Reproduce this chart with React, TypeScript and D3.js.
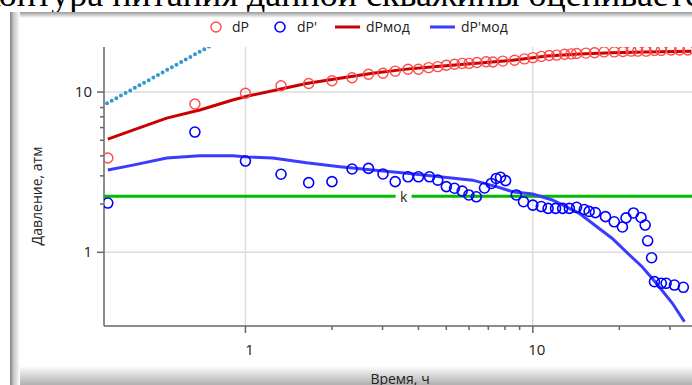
import React from "react";
import * as d3 from "d3";

// measured pressure change, dP
const dpTime = [0.332, 0.667, 1.0, 1.33, 1.66, 2.0, 2.35, 2.68, 3.01, 3.32, 3.68, 4.0, 4.34, 4.67, 5.0, 5.34, 5.68, 6.0, 6.39, 6.88, 7.26, 7.86, 8.64, 9.35, 10.0, 10.7, 11.4, 12.1, 12.9, 13.6, 14.2, 15.3, 16.4, 17.7, 19.2, 20.6, 22.0, 23.2, 24.8, 26.5, 28.0, 30.3, 32.4, 34.6];
const dpValues = [3.88, 8.42, 9.83, 10.95, 11.3, 11.76, 12.28, 12.9, 13.1, 13.5, 13.86, 13.86, 14.2, 14.4, 14.7, 14.9, 15.1, 15.1, 15.3, 15.45, 15.4, 15.6, 15.8, 16.1, 16.4, 16.7, 16.9, 17.0, 17.2, 17.3, 17.4, 17.5, 17.6, 17.8, 17.8, 17.9, 18.0, 18.0, 18.0, 18.2, 18.2, 18.3, 18.3, 18.3];

// derivative dP'
const derivTime = [0.332, 0.667, 1.0, 1.33, 1.66, 2.0, 2.35, 2.68, 3.01, 3.32, 3.68, 4.0, 4.37, 4.67, 5.0, 5.34, 5.68, 5.99, 6.36, 6.79, 7.17, 7.46, 7.72, 8.04, 8.76, 9.28, 10.0, 10.7, 11.3, 12.0, 12.7, 13.4, 14.2, 15.1, 15.7, 16.5, 17.9, 19.2, 20.5, 21.1, 22.4, 23.8, 24.6, 25.1, 25.9, 26.5, 28.0, 29.1, 31.1, 33.4];
const derivValues = [2.03, 5.63, 3.71, 3.07, 2.72, 2.76, 3.31, 3.34, 3.08, 2.76, 2.96, 2.96, 2.96, 2.82, 2.57, 2.51, 2.41, 2.28, 2.22, 2.52, 2.69, 2.89, 2.94, 2.8, 2.28, 2.07, 1.97, 1.93, 1.88, 1.88, 1.88, 1.88, 1.91, 1.85, 1.8, 1.77, 1.67, 1.55, 1.44, 1.64, 1.76, 1.65, 1.48, 1.18, 0.925, 0.656, 0.641, 0.641, 0.625, 0.605];

// model curves
const modelTime = [0.332, 0.406, 0.532, 0.694, 0.903, 1.02, 1.316, 1.63, 2.13, 2.77, 3.64, 4.74, 6.53, 8.5, 11.2, 14.5, 18.9, 24.8, 35.6];
const modelValues = [5.09, 5.79, 6.88, 7.72, 8.92, 9.44, 10.4, 11.3, 12.2, 13.1, 13.9, 14.5, 15.2, 15.8, 16.8, 17.3, 17.6, 17.8, 18.0];
const modelDerivTime = [0.332, 0.406, 0.532, 0.694, 0.903, 1.02, 1.244, 1.63, 2.13, 2.77, 3.64, 4.74, 6.17, 7.47, 8.5, 9.98, 11.7, 14.5, 18.9, 21.7, 24.0, 26.9, 30.6, 33.7];
const modelDerivValues = [3.26, 3.5, 3.88, 4.0, 4.0, 3.93, 3.88, 3.62, 3.42, 3.26, 3.11, 2.96, 2.82, 2.57, 2.39, 2.31, 2.12, 1.75, 1.22, 0.962, 0.813, 0.641, 0.481, 0.369];

// unit slope (wellbore storage) and radial flow level
const storageTime = [0.33, 0.8];
const storageValues = [8.5, 20.6];
const kLevel = 2.24;

const xMajor = [1, 10];
const xMinor = [2, 3, 4, 5, 6, 7, 8, 9, 20, 30];
const yMajor = [1, 10];
const yMinor = [2, 3, 4, 5, 6, 7, 8];

const font = "'Open Sans', 'DejaVu Sans', sans-serif";

export default function App() {
  const left = 104, right = 692, top = 47, bottom = 326;
  const x = d3.scaleLog().domain([0.322, 35.8]).range([left, right]);
  const y = d3.scaleLog().domain([0.347, 19.1]).range([bottom, top]);

  const line = d3
    .line<[number, number]>()
    .x((d) => x(d[0]))
    .y((d) => y(d[1]));

  const zip = (a: number[], b: number[]) => a.map((t, i) => [t, b[i]] as [number, number]);

  const legendY = 27;

  return (
    <svg width={692} height={385} style={{ position: "fixed", left: 0, top: 0, background: "#fff" }}>
      <defs>
        <clipPath id="plot">
          <rect x={left} y={top} width={right - left} height={bottom - top} />
        </clipPath>
        <linearGradient id="shL" x1="0" x2="1" y1="0" y2="0">
          <stop offset="0" stopColor="#808080" />
          <stop offset="0.35" stopColor="#c4c4c4" />
          <stop offset="1" stopColor="#ffffff" />
        </linearGradient>
        <linearGradient id="shT" x1="0" x2="0" y1="0" y2="1">
          <stop offset="0" stopColor="#9a9a9a" />
          <stop offset="1" stopColor="#ffffff" />
        </linearGradient>
        <linearGradient id="shB" x1="0" x2="0" y1="0" y2="1">
          <stop offset="0" stopColor="#ffffff" />
          <stop offset="1" stopColor="#b0b0b0" />
        </linearGradient>
      </defs>

      {/* document text above the figure */}
      <text x={-17} y={6} fontFamily="'Liberation Serif', 'Times New Roman', serif" fontSize={36} fill="#000">
        контура питания данной скважины оценивается
      </text>

      {/* figure frame */}
      <rect x={10} y={12} width={700} height={400} fill="#fff" />
      <rect x={10} y={12} width={700} height={6} fill="url(#shT)" />
      <rect x={10} y={366} width={700} height={19} fill="url(#shB)" />
      <rect x={10} y={12} width={10} height={380} fill="url(#shL)" />

      {/* legend */}
      <g fontFamily={font} fontSize={14} fill="#222">
        <circle cx={216} cy={legendY} r={5} fill="none" stroke="#ff4a4a" strokeWidth={1.4} />
        <text x={232} y={legendY + 5}>dP</text>
        <circle cx={280} cy={legendY} r={5} fill="none" stroke="#0000ff" strokeWidth={1.6} />
        <text x={297} y={legendY + 5}>dP'</text>
        <line x1={335} x2={360} y1={legendY} y2={legendY} stroke="#c80000" strokeWidth={3} />
        <text x={366} y={legendY + 5}>dPмод</text>
        <line x1={430} x2={455} y1={legendY} y2={legendY} stroke="#3b3bff" strokeWidth={3} />
        <text x={461} y={legendY + 5}>dP'мод</text>
      </g>

      {/* grid */}
      <g stroke="#dcdcdc" strokeWidth={1.5}>
        {xMajor.map((t) => (
          <line key={"gx" + t} x1={x(t)} x2={x(t)} y1={top} y2={bottom} />
        ))}
        {yMajor.map((v) => (
          <line key={"gy" + v} x1={left} x2={right} y1={y(v)} y2={y(v)} />
        ))}
      </g>

      {/* axes */}
      <g stroke="#666" strokeWidth={1.5}>
        <line x1={left} x2={left} y1={top} y2={bottom} />
        <line x1={left} x2={right} y1={bottom} y2={bottom} />
        {xMajor.map((t) => (
          <line key={"tx" + t} x1={x(t)} x2={x(t)} y1={bottom} y2={bottom + 7} />
        ))}
        {xMinor.map((t) => (
          <line key={"mx" + t} x1={x(t)} x2={x(t)} y1={bottom} y2={bottom + 4} />
        ))}
        {yMajor.map((v) => (
          <line key={"ty" + v} x1={left - 7} x2={left} y1={y(v)} y2={y(v)} />
        ))}
        {yMinor.map((v) => (
          <line key={"my" + v} x1={left - 4} x2={left} y1={y(v)} y2={y(v)} />
        ))}
      </g>
      <g fontFamily={font} fontSize={15} fill="#222">
        {xMajor.map((t) => (
          <text key={"lx" + t} x={x(t) + 4} y={355} textAnchor="middle">
            {t}
          </text>
        ))}
        {yMajor.map((v) => (
          <text key={"ly" + v} x={92} y={y(v) + 5} textAnchor="end">
            {v}
          </text>
        ))}
      </g>
      <text x={400} y={384} textAnchor="middle" fontFamily={font} fontSize={14} fill="#222">
        Время, ч
      </text>
      <text
        transform="translate(42,196) rotate(-90)"
        textAnchor="middle"
        fontFamily={font}
        fontSize={14}
        fill="#222"
      >
        Давление, атм
      </text>

      {/* data */}
      <g clipPath="url(#plot)">
        <line x1={left} x2={right} y1={y(kLevel)} y2={y(kLevel)} stroke="#00bb00" strokeWidth={3} />
        <path
          d={line(zip(storageTime, storageValues)) || ""}
          fill="none"
          stroke="#3399cc"
          strokeWidth={4}
          strokeLinecap="round"
          strokeDasharray="0 5.3"
        />
        <path d={line(zip(modelTime, modelValues)) || ""} fill="none" stroke="#c80000" strokeWidth={3} />
        <path d={line(zip(modelDerivTime, modelDerivValues)) || ""} fill="none" stroke="#3b3bff" strokeWidth={3} />
        {dpTime.map((t, i) => (
          <circle key={"dp" + i} cx={x(t)} cy={y(dpValues[i])} r={5} fill="none" stroke="#ff4a4a" strokeWidth={1.4} />
        ))}
        {derivTime.map((t, i) => (
          <circle key={"dd" + i} cx={x(t)} cy={y(derivValues[i])} r={5} fill="none" stroke="#0000ff" strokeWidth={1.6} />
        ))}
      </g>
      <rect x={x(3.55) - 8} y={y(kLevel) - 3} width={16} height={6} fill="#fff" />
      <text x={x(3.55)} y={y(kLevel) + 6} textAnchor="middle" fontFamily={font} fontSize={14} fill="#222">
        k
      </text>
    </svg>
  );
}
